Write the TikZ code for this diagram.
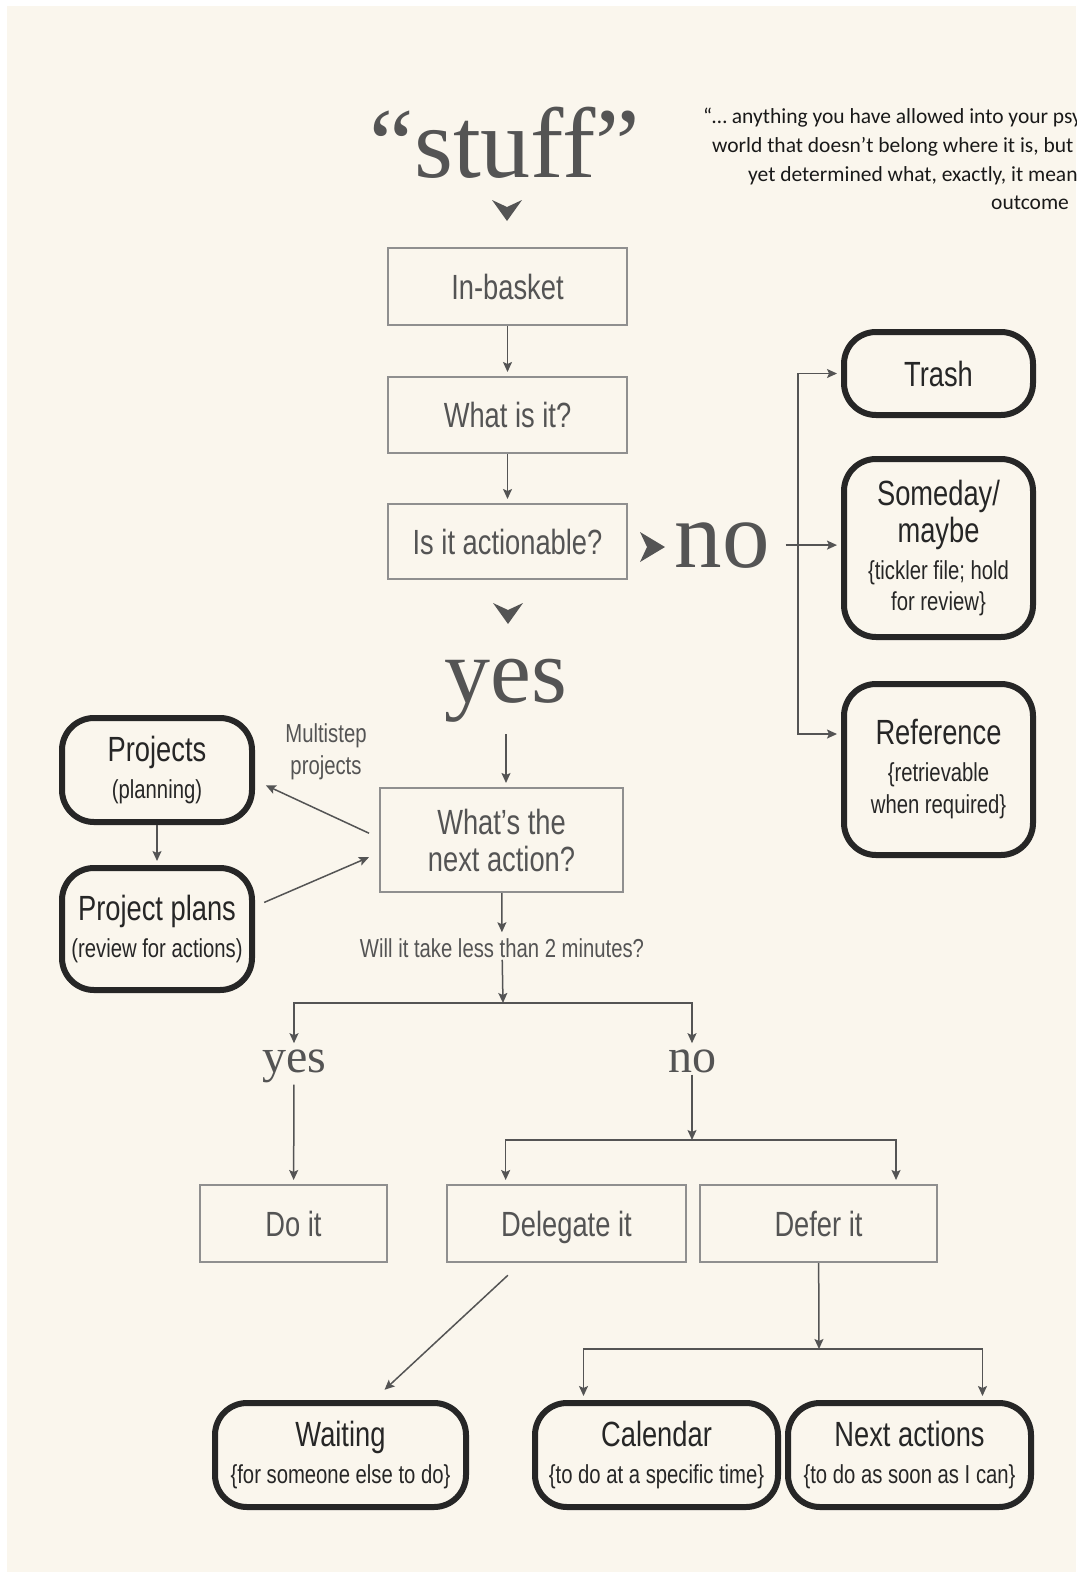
\documentclass[tikz,border=0pt]{standalone}
\usepackage{fontspec}
\setmainfont{Liberation Serif}
\newfontfamily\condsans[FakeStretch=0.78]{Liberation Sans}
\newfontfamily\quotesans{Carlito}
\usetikzlibrary{arrows.meta}

\newlength{\du}
\setlength{\du}{1bp}

\definecolor{paper}{rgb}{0.980000, 0.965000, 0.930000}
\definecolor{inkgray}{rgb}{0.330000, 0.330000, 0.330000}
\definecolor{boxgray}{rgb}{0.560000, 0.560000, 0.560000}
\definecolor{edgedark}{rgb}{0.150000, 0.150000, 0.150000}
\definecolor{quoteink}{rgb}{0.100000, 0.100000, 0.100000}

\newcommand{\boxtitle}{\condsans\fontsize{35bp}{37bp}\selectfont}
\newcommand{\boxnote}{\condsans\fontsize{26bp}{32bp}\selectfont}
\newcommand{\quotetext}{\quotesans\fontsize{21.5bp}{29bp}\selectfont}

% filled chevrons standing in for the big arrow heads
\newcommand{\chevdown}[1]{\fill[inkgray] (#1) ++(-15\du,-10\du) -- ++(15\du,21\du) -- ++(15\du,-21\du) -- ++(-15\du,7\du) -- cycle;}
\newcommand{\chevright}[1]{\fill[inkgray] (#1) ++(-12\du,-15\du) -- ++(25\du,15\du) -- ++(-25\du,15\du) -- ++(7\du,-15\du) -- cycle;}

\tikzset{
  plainbox/.style={draw=boxgray, line width=2\du, inner sep=0pt, text=inkgray, font=\boxtitle, align=center},
  listbox/.style={draw=edgedark, line width=6\du, rounded corners=32\du, inner sep=0pt, text=edgedark, font=\boxtitle, align=center},
  oneline/.style={text height=25\du, text depth=0pt},
  bigword/.style={text=inkgray, inner sep=2\du},
  notelabel/.style={text=inkgray, font=\boxnote, align=center, inner sep=2\du},
  quoteline/.style={text=quoteink, font=\quotetext, anchor=base west, inner sep=0pt},
  flow/.style={draw=inkgray, line width=1.5\du, -{Stealth[length=10bp,width=9bp,inset=2bp]}, shorten >=4\du}
}

\begin{document}
\begin{tikzpicture}
\pgftransformxscale{1.000000}
\pgftransformyscale{-1.000000}
\useasboundingbox (0\du,0\du) rectangle (1076\du,1572\du);
\clip (0\du,0\du) rectangle (1076\du,1572\du);
\fill[white] (0\du,0\du) rectangle (1076\du,1572\du);
\fill[paper] (7\du,6\du) rectangle (1076\du,1572\du);

% quotation, as far as the page shows it
\node[quoteline] (quote1) at (703\du,124\du){“… anything you have allowed into your psy};
\node[quoteline] (quote2) at (712\du,153\du){world that doesn’t belong where it is, but};
\node[quoteline] (quote3) at (748\du,181\du){yet determined what, exactly, it mean};
\node[quoteline] (quote4) at (991\du,209\du){outcome};

% big serif words
\node[bigword, anchor=base, font=\fontsize{100bp}{100bp}\selectfont] (stuff) at (505\du,177\du){“stuff”};
\node[bigword, anchor=base, font=\fontsize{92bp}{92bp}\selectfont] (yesbig) at (506\du,702\du){yes};
\node[bigword, anchor=base, font=\fontsize{95bp}{95bp}\selectfont] (nobig) at (722\du,567\du){no};
\node[bigword, anchor=base, font=\fontsize{48bp}{48bp}\selectfont] (yessmall) at (294\du,1072\du){yes};
\node[bigword, anchor=base, font=\fontsize{48bp}{48bp}\selectfont] (nosmall) at (692\du,1072\du){no};

\coordinate (chevtop) at (507\du,210\du);
\coordinate (chevyes) at (508\du,613\du);
\coordinate (chevno) at (652\du,547\du);
\chevdown{chevtop}
\chevdown{chevyes}
\chevright{chevno}

% question boxes
\node[plainbox, oneline, minimum width=239\du, minimum height=77\du] (inbasket) at (507.5\du,286.5\du){In-basket};
\node[plainbox, oneline, minimum width=239\du, minimum height=76\du] (whatis) at (507.5\du,415\du){What is it?};
\node[plainbox, oneline, minimum width=239\du, minimum height=75\du] (actionable) at (507.5\du,541.5\du){Is it actionable?};
\node[plainbox, minimum width=243\du, minimum height=104\du] (nextaction) at (501.5\du,840\du){What’s the\\next action?};
\node[notelabel] (willit) at (502\du,948\du){Will it take less than 2 minutes?};
\node[plainbox, oneline, minimum width=187\du, minimum height=77\du] (doit) at (293.5\du,1223.5\du){Do it};
\node[plainbox, oneline, minimum width=239\du, minimum height=77\du] (delegate) at (566.5\du,1223.5\du){Delegate it};
\node[plainbox, oneline, minimum width=237\du, minimum height=77\du] (defer) at (818.5\du,1223.5\du){Defer it};

% lists
\node[listbox, oneline, minimum width=189\du, minimum height=83\du] (trash) at (938.5\du,373.5\du){Trash};
\node[listbox, minimum width=189\du, minimum height=178\du] (someday) at (938.5\du,548\du){Someday/\\maybe\\{\boxnote \{tickler file; hold}\\[-6\du]{\boxnote for review\}}};
\node[listbox, minimum width=189\du, minimum height=171\du] (reference) at (938.5\du,769.5\du){Reference\\{\boxnote \{retrievable}\\[-5\du]{\boxnote when required\}}};
\node[listbox, minimum width=190\du, minimum height=104\du] (projects) at (157\du,770\du){Projects\\{\boxnote (planning)}};
\node[listbox, minimum width=190\du, minimum height=122\du] (planbox) at (157\du,929\du){Project plans\\{\boxnote (review for actions)}};
\node[listbox, minimum width=251\du, minimum height=104\du] (waiting) at (340.5\du,1455\du){Waiting\\{\boxnote \{for someone else to do\}}};
\node[listbox, minimum width=243\du, minimum height=104\du] (calendar) at (656.5\du,1455\du){Calendar\\{\boxnote \{to do at a specific time\}}};
\node[listbox, minimum width=243\du, minimum height=104\du] (nextlist) at (909.5\du,1455\du){Next actions\\{\boxnote \{to do as soon as I can\}}};

\node[notelabel] (multistep) at (326\du,752\du){Multistep\\projects};

% connectors
\draw[flow] (inbasket) -- (whatis);
\draw[flow] (whatis) -- (actionable);
\draw[flow, shorten <=10\du] (yesbig.south) -- (yesbig.south |- nextaction.north);

\coordinate (nofork) at (798\du,547\du);
\draw[flow, shorten <=14\du] (nobig.east) -- (nobig.east -| someday.west);
\draw[flow] (nofork) |- (trash.west);
\draw[flow] (nofork) |- (reference.160);

\draw[flow, shorten <=11\du, shorten >=12\du] (nextaction.179) -- (projects.-6);
\draw[flow] (projects) -- (planbox);
\draw[flow, shorten <=10\du, shorten >=11\du] (planbox.13) -- (nextaction.186);

\draw[flow] (nextaction) -- (willit);
\coordinate (splitquick) at (503\du,1003\du);
\draw[flow, shorten >=0pt] (willit) -- (splitquick);
\draw[flow] (splitquick) -| (yessmall);
\draw[flow] (splitquick) -| (nosmall);
\draw[flow] (yessmall) -- (doit);

\coordinate (splitlater) at (692\du,1140\du);
\draw[flow, shorten >=0pt] (nosmall) -- (splitlater);
\draw[flow] (splitlater) -| (delegate.147.5);
\draw[flow] (splitlater) -| (defer.27.3);

\draw[flow, shorten <=18\du, shorten >=15\du] (delegate.221.5) -- (waiting.59.6);
\coordinate (splitplan) at (819\du,1349\du);
\draw[flow, shorten >=0pt] (defer) -- (splitplan);
\draw[flow] (splitplan) -| (calendar.143.2);
\draw[flow] (splitplan) -| (nextlist.37.6);
\end{tikzpicture}
\end{document}
